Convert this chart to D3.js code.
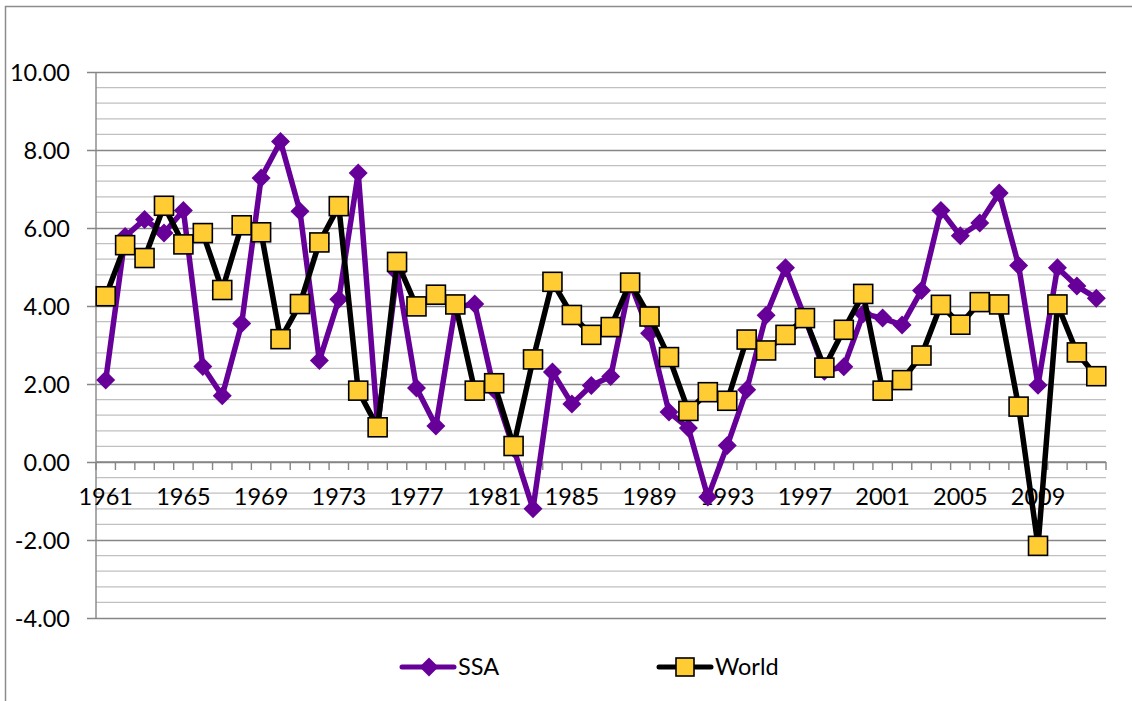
<!DOCTYPE html>
<html>
<head>
<meta charset="utf-8">
<script src="https://cdn.jsdelivr.net/npm/d3@7"></script>
<style>
  body { margin: 0; background: #fff; }
  text { font-family: Lato, "Open Sans", sans-serif; fill: #000; }
</style>
</head>
<body>
<div id="chart"></div>
<script>
var years = d3.range(1961, 2013);
var ssa = [2.10, 5.78, 6.22, 5.87, 6.45, 2.45, 1.70, 3.55, 7.28, 8.22,
           6.43, 2.60, 4.17, 7.41, 0.95, 4.86, 1.90, 0.92, 3.97, 4.05,
           1.85, 0.35, -1.20, 2.31, 1.49, 1.96, 2.19, 4.60, 3.30, 1.28,
           0.87, -0.90, 0.42, 1.85, 3.76, 4.98, 3.70, 2.33, 2.44, 3.80,
           3.69, 3.51, 4.40, 6.45, 5.80, 6.13, 6.90, 5.04, 1.97, 4.98,
           4.51, 4.20];
var world = [4.25, 5.56, 5.23, 6.57, 5.58, 5.87, 4.41, 6.07, 5.89, 3.15,
             4.05, 5.63, 6.56, 1.83, 0.89, 5.13, 3.99, 4.29, 4.04, 1.83,
             2.02, 0.41, 2.63, 4.62, 3.77, 3.26, 3.46, 4.60, 3.73, 2.69,
             1.31, 1.79, 1.57, 3.14, 2.86, 3.26, 3.69, 2.42, 3.39, 4.31,
             1.83, 2.10, 2.73, 4.03, 3.52, 4.10, 4.04, 1.42, -2.15, 4.04,
             2.81, 2.20];
var yTicks = [-4, -2, 0, 2, 4, 6, 8, 10];
var xLabelYears = d3.range(1961, 2013, 4);

var width = 1132, height = 701;
var svg = d3.select("#chart").append("svg")
    .attr("width", width)
    .attr("height", height);

// outer chart frame
svg.append("path")
    .attr("d", "M5.5," + height + "V6.5H" + width)
    .attr("fill", "none")
    .attr("stroke", "#8c8c8c")
    .attr("stroke-width", 1.5);

var x = d3.scaleBand().domain(years).range([96, 1106]).padding(0);
var y = d3.scaleLinear().domain([-4, 10]).range([618, 72]);
var cx = function(yr) { return x(yr) + x.bandwidth() / 2; };

// minor gridlines every 0.4
var minor = d3.range(-4, 10.001, 0.4).filter(function(v) {
    return Math.abs(v / 2 - Math.round(v / 2)) > 0.01;
});
svg.append("g").selectAll("line")
    .data(minor).enter().append("line")
    .attr("x1", 96).attr("x2", 1106)
    .attr("y1", function(d) { return y(d); })
    .attr("y2", function(d) { return y(d); })
    .attr("stroke", "#c0c0c0")
    .attr("stroke-width", 1.3);

// major gridlines + y axis ticks
var yAxis = d3.axisLeft(y).tickValues(yTicks)
    .tickSize(-1010).tickSizeOuter(0)
    .tickFormat(function(d) { return d.toFixed(2); });
var gy = svg.append("g").attr("transform", "translate(96,0)").call(yAxis);
gy.select(".domain").remove();
gy.selectAll(".tick line").attr("stroke", "#868686").attr("stroke-width", 1.4)
    .attr("x1", -9);
gy.selectAll(".tick text").attr("x", -26).attr("dy", "0.35em")
    .style("font-size", "23.5px").style("font-family", "Lato, sans-serif");

// vertical axis line
svg.append("line")
    .attr("x1", 96).attr("x2", 96).attr("y1", 72).attr("y2", 618)
    .attr("stroke", "#868686").attr("stroke-width", 1.4);

// x axis at zero with ticks at category boundaries
svg.append("line")
    .attr("x1", 96).attr("x2", 1106).attr("y1", y(0)).attr("y2", y(0))
    .attr("stroke", "#868686").attr("stroke-width", 1.4);
var edges = years.map(function(d) { return x(d); }).concat([1106]);
svg.append("g").selectAll("line")
    .data(edges).enter().append("line")
    .attr("x1", function(d) { return d; })
    .attr("x2", function(d) { return d; })
    .attr("y1", y(0)).attr("y2", y(0) + 8)
    .attr("stroke", "#868686").attr("stroke-width", 1.4);
svg.append("g").selectAll("text")
    .data(xLabelYears).enter().append("text")
    .attr("x", function(d) { return cx(d); })
    .attr("y", y(0) + 43)
    .attr("text-anchor", "middle")
    .style("font-size", "23.5px")
    .text(function(d) { return d; });

var line = d3.line()
    .x(function(d, i) { return cx(years[i]); })
    .y(function(d) { return y(d); });

var purple = "#660099";
var gold = "#ffcc33";

svg.append("path").datum(ssa)
    .attr("d", line)
    .attr("fill", "none")
    .attr("stroke", purple)
    .attr("stroke-width", 5.5)
    .attr("stroke-linejoin", "round");

var diamond = d3.symbol().type(d3.symbolDiamond2).size(230);
svg.append("g").selectAll("path")
    .data(ssa).enter().append("path")
    .attr("d", diamond)
    .attr("transform", function(d, i) { return "translate(" + cx(years[i]) + "," + y(d) + ")"; })
    .attr("fill", purple);

svg.append("path").datum(world)
    .attr("d", line)
    .attr("fill", "none")
    .attr("stroke", "#000")
    .attr("stroke-width", 5.5)
    .attr("stroke-linejoin", "round");

svg.append("g").selectAll("rect")
    .data(world).enter().append("rect")
    .attr("x", function(d, i) { return cx(years[i]) - 9.5; })
    .attr("y", function(d) { return y(d) - 9.5; })
    .attr("width", 19).attr("height", 19)
    .attr("fill", gold)
    .attr("stroke", "#000")
    .attr("stroke-width", 1.6);

// legend
var legend = [
    { name: "SSA", x: 400, color: purple, marker: "diamond" },
    { name: "World", x: 657, color: "#000", marker: "square" }
];
var lg = svg.append("g").selectAll("g")
    .data(legend).enter().append("g")
    .attr("transform", function(d) { return "translate(" + d.x + ",667)"; });
lg.append("line")
    .attr("x1", 2).attr("x2", 54).attr("y1", 0).attr("y2", 0)
    .attr("stroke", function(d) { return d.color; })
    .attr("stroke-width", 5)
    .attr("stroke-linecap", "round");
lg.filter(function(d) { return d.marker === "diamond"; })
    .append("path")
    .attr("d", diamond)
    .attr("transform", "translate(29,0)")
    .attr("fill", purple);
lg.filter(function(d) { return d.marker === "square"; })
    .append("rect")
    .attr("x", 19).attr("y", -9).attr("width", 18).attr("height", 18)
    .attr("fill", gold).attr("stroke", "#000").attr("stroke-width", 1.6);
lg.append("text")
    .attr("x", 58).attr("dy", "0.35em")
    .style("font-size", "23.5px")
    .text(function(d) { return d.name; });
</script>
</body>
</html>
